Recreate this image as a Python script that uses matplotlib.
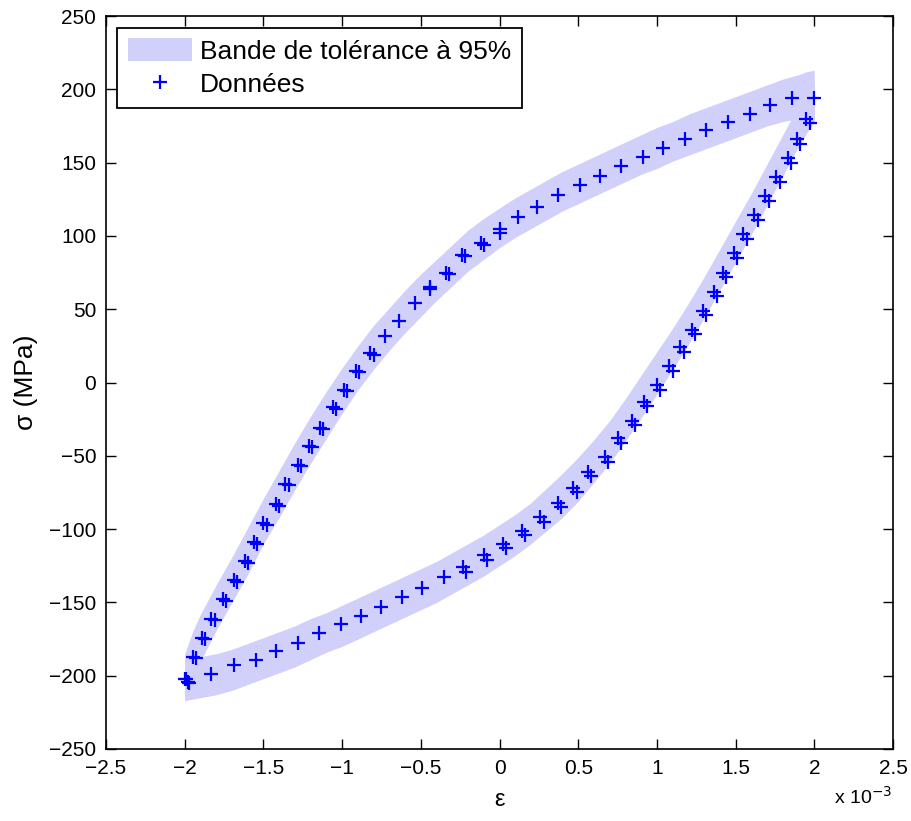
import matplotlib
matplotlib.use("Agg")
import matplotlib.pyplot as plt
from matplotlib.patches import Patch
from matplotlib.lines import Line2D

plt.rcParams['font.family'] = ['Liberation Sans', 'DejaVu Sans']

# strain in units of 1e-3, stress in MPa
# measured points: upper (loading) branch
up_eps = [-2.00, -1.95, -1.89, -1.83, -1.76, -1.69, -1.62, -1.56, -1.50, -1.42, -1.36, -1.28,
          -1.21, -1.14, -1.06, -0.99, -0.91, -0.82, -0.73, -0.64, -0.54, -0.44, -0.34, -0.24,
          -0.12, 0.00, 0.12, 0.24, 0.37, 0.51, 0.64, 0.77, 0.91, 1.04, 1.18, 1.31, 1.45, 1.59,
          1.72, 1.86, 2.00]
up_sig = [-202, -187, -174, -161, -148, -135, -122, -109, -96, -83, -69, -56,
          -43, -31, -17, -5, 8, 20, 32, 42, 54, 65, 75, 87,
          95, 105, 113, 120, 128, 135, 141, 148, 154, 160, 166, 172, 178, 183,
          189, 194, 194]
# measured points: lower (unloading) branch
lo_eps = [1.95, 1.89, 1.83, 1.76, 1.69, 1.62, 1.55, 1.49, 1.42, 1.36, 1.29, 1.22, 1.15,
          1.08, 1.00, 0.92, 0.84, 0.75, 0.67, 0.56, 0.47, 0.37, 0.26, 0.14, 0.02, -0.10,
          -0.23, -0.35, -0.49, -0.62, -0.75, -0.88, -1.01, -1.15, -1.28, -1.42, -1.55,
          -1.69, -1.83, -1.99]
lo_sig = [180, 166, 153, 140, 127, 114, 101, 88, 75, 62, 49, 36, 24,
          11, -2, -13, -26, -38, -51, -61, -72, -82, -92, -101, -110, -118,
          -126, -133, -140, -146, -153, -159, -165, -171, -178, -183, -189,
          -193, -199, -202]
# second (repeated) measurements
rep_eps = [-1.98, -1.93, -1.87, -1.81, -1.74, -1.67, -1.60, -1.54, -1.48, -1.40, -1.34, -1.26,
           -1.19, -1.12, -1.04, -0.97, -0.89, -0.80, -0.44, -0.32, -0.22, -0.10, 0.00,
           1.97, 1.91, 1.85, 1.78, 1.71, 1.64, 1.57, 1.51, 1.44, 1.38, 1.31, 1.24, 1.17,
           1.10, 1.02, 0.94, 0.86, 0.77, 0.69, 0.58, 0.49, 0.39, 0.28, 0.16, 0.04, -0.08,
           -0.21, -1.97]
rep_sig = [-204, -188, -175, -162, -149, -136, -123, -110, -97, -84, -70, -57,
           -44, -32, -18, -6, 7, 19, 64, 74, 86, 94, 102,
           177, 163, 150, 137, 124, 111, 98, 85, 72, 59, 46, 33, 21,
           8, -5, -16, -29, -41, -54, -64, -75, -85, -95, -104, -113, -121,
           -129, -205]

# 95% tolerance band
band_eps = [-2.0, -1.95, -1.9, -1.8, -1.7, -1.6, -1.5, -1.4, -1.3, -1.2, -1.1, -1.0, -0.9,
            -0.8, -0.7, -0.6, -0.5, -0.4, -0.3, -0.2, -0.1, 0.0, 0.1, 0.2, 0.3, 0.4, 0.5,
            0.6, 0.7, 0.8, 0.9, 1.0, 1.1, 1.2, 1.3, 1.4, 1.5, 1.6, 1.7, 1.8, 1.9, 1.95, 2.0]
band_up_lo = [-217, -202, -190, -169, -150, -131, -110, -92, -73, -55, -38, -21, -5,
              9, 22, 34, 45, 56, 66, 76, 84, 92, 99, 105, 111, 117, 122,
              127, 132, 137, 142, 146, 151, 155, 159, 163, 167, 171, 175, 178, 180, 180, 178]
band_up_hi = [-185, -170, -158, -138, -119, -99, -79, -60, -41, -23, -6, 10, 25,
              39, 51, 63, 74, 84, 94, 104, 112, 119, 126, 132, 138, 144, 149,
              154, 159, 164, 169, 174, 178, 183, 187, 191, 195, 199, 203, 207, 210, 212, 213]
band_lo_lo = [-217, -216, -215, -213, -210, -206, -202, -198, -194, -189, -184, -180, -175,
              -170, -165, -160, -155, -150, -144, -138, -132, -125, -118, -110, -101, -92, -81,
              -68, -55, -40, -24, -8, 9, 26, 44, 63, 82, 101, 121, 141, 161, 170, 178]
band_lo_hi = [-188, -188, -187, -185, -182, -178, -174, -170, -166, -161, -157, -152, -147,
              -142, -137, -132, -127, -122, -116, -110, -104, -97, -90, -82, -72, -62, -51,
              -39, -26, -11, 5, 21, 37, 54, 72, 91, 110, 129, 149, 169, 189, 198, 206]

x_ticks = [-2.5, -2, -1.5, -1, -0.5, 0, 0.5, 1, 1.5, 2, 2.5]
y_ticks = [-250, -200, -150, -100, -50, 0, 50, 100, 150, 200, 250]
legend_labels = ['Bande de tolérance à 95%', 'Données']

band_color = '#d0d0fa'
data_color = '#0000ff'

fig = plt.figure(figsize=(9.11, 8.21), dpi=100)
ax = fig.add_axes([0.1164, 0.0877, 0.8638, 0.8928])

ax.fill_between(band_eps, band_up_lo, band_up_hi, color=band_color, linewidth=0, zorder=1)
ax.fill_between(band_eps, band_lo_lo, band_lo_hi, color=band_color, linewidth=0, zorder=1)

mk = dict(linestyle='none', marker='+', color=data_color, markersize=10.5,
          markeredgewidth=1.6, zorder=3)
ax.plot(up_eps, up_sig, **mk)
ax.plot(lo_eps, lo_sig, **mk)
ax.plot(rep_eps, rep_sig, **mk)

ax.set_xlim(-2.5, 2.5)
ax.set_ylim(-250, 250)
ax.set_xticks(x_ticks)
ax.set_xticklabels([f"{t:g}".replace('-', '\u2212') for t in x_ticks])
ax.set_yticks(y_ticks)
ax.set_yticklabels([f"{t:g}".replace('-', '\u2212') for t in y_ticks])
ax.tick_params(direction='in', length=7, width=1, top=True, right=True,
               labelsize=15, pad=7, colors='black')
for s in ax.spines.values():
    s.set_linewidth(1.2)

ax.set_xlabel('ε', fontsize=17, labelpad=8)
ax.set_ylabel('σ (MPa)', fontsize=19, labelpad=8)
fig.text(0.915, 0.016, 'x 10$^{-3}$', fontsize=14, ha='left', va='bottom')

handles = [Patch(facecolor=band_color, edgecolor='none'),
           Line2D([], [], linestyle='none', marker='+', color=data_color, markersize=10.5,
                  markeredgewidth=1.6)]
leg = ax.legend(handles, legend_labels, loc='upper left',
                bbox_to_anchor=(0.014, 0.984), borderaxespad=0, fontsize=19,
                fancybox=False, framealpha=1, edgecolor='black',
                handlelength=2.45, handleheight=0.95, handletextpad=0.3,
                borderpad=0.4, labelspacing=0.3)
leg.get_frame().set_linewidth(1.3)

fig.savefig('out.png', dpi=100)
